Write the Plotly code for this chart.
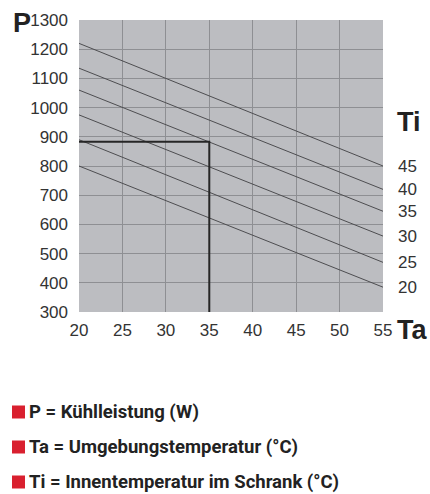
import plotly.graph_objects as go

# Data
ta_range = [20, 55]
ti_labels = ["45", "40", "35", "30", "25", "20"]
p_at_20 = [1220, 1135, 1060, 975, 890, 800]
p_at_55 = [800, 720, 645, 560, 470, 385]
ref_ta = 35
ref_p = 883
x_ticks = [20, 25, 30, 35, 40, 45, 50, 55]
y_ticks = [300, 400, 500, 600, 700, 800, 900, 1000, 1100, 1200, 1300]
legend_items = ["P = Kühlleistung (W)", "Ta = Umgebungstemperatur (°C)", "Ti = Innentemperatur im Schrank (°C)"]

fig = go.Figure()
for lab, p0, p1 in zip(ti_labels, p_at_20, p_at_55):
    fig.add_trace(go.Scatter(x=ta_range, y=[p0, p1], mode="lines",
                             line=dict(color="#4d4d50", width=1), showlegend=False, hoverinfo="skip"))
    fig.add_annotation(x=1.042, xref="paper", y=p1, yref="y", text=lab, showarrow=False,
                       xanchor="left", yanchor="middle",
                       font=dict(family="Liberation Sans, Arial", size=17, color="#333333"))

fig.add_trace(go.Scatter(x=[ta_range[0], ref_ta, ref_ta], y=[ref_p, ref_p, y_ticks[0]], mode="lines",
                         line=dict(color="#262626", width=2), showlegend=False, hoverinfo="skip"))

axis_font = dict(family="Liberation Sans, Arial", size=17, color="#333333")
fig.update_xaxes(range=ta_range, tickvals=x_ticks, showgrid=True, gridcolor="#8e8f93", gridwidth=1,
                 zeroline=False, showline=False, tickfont=axis_font, ticklabelstandoff=6)
fig.update_yaxes(range=[y_ticks[0], y_ticks[-1]], tickvals=y_ticks, showgrid=True, gridcolor="#8e8f93",
                 gridwidth=1, zeroline=False, showline=False, tickfont=axis_font, ticklabelstandoff=10)

bold_font = dict(family="Liberation Sans, Arial", size=27, color="#222222")
fig.add_annotation(x=-0.225, xref="paper", y=0.99, yref="paper", text="<b>P</b>", showarrow=False,
                   xanchor="left", yanchor="middle", font=bold_font)
fig.add_annotation(x=1.04, xref="paper", y=0.651, yref="paper", text="<b>Ti</b>", showarrow=False,
                   xanchor="left", yanchor="middle", font=bold_font)
fig.add_annotation(x=1.04, xref="paper", y=-0.062, yref="paper", text="<b>Ta</b>", showarrow=False,
                   xanchor="left", yanchor="middle", font=bold_font)

leg_y = [412, 447, 482]
for txt, py in zip(legend_items, leg_y):
    yp = (312 - py) / 292
    x0 = (12 - 79) / 304
    x1 = (25 - 79) / 304
    h = 6.5 / 292
    fig.add_shape(type="rect", xref="paper", yref="paper", x0=x0, x1=x1, y0=yp - h, y1=yp + h,
                  fillcolor="#d9202f", line=dict(width=0))
    fig.add_annotation(x=(27 - 79) / 304, xref="paper", y=yp, yref="paper", text="<b>" + txt + "</b>",
                       showarrow=False, xanchor="left", yanchor="middle",
                       font=dict(family="Roboto", size=18.5, color="#222222"))

fig.update_layout(width=430, height=494, margin=dict(l=79, r=47, t=20, b=182),
                  plot_bgcolor="#bcbdc1", paper_bgcolor="white")
fig.write_html("out.html", config={"displayModeBar": False},
               post_script="document.body.style.margin='0';document.body.style.overflow='hidden';")
